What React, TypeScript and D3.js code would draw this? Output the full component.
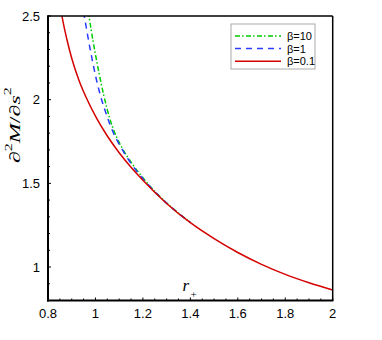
import React from "react";
import * as d3 from "d3";

// r+ sample points and values
const rRed = [0.855, 0.86, 0.88, 0.9, 0.93, 0.96, 1.0, 1.05, 1.1, 1.15, 1.2, 1.3, 1.4, 1.5, 1.6, 1.7, 1.8, 1.9, 2.0];
const redVals = [2.53, 2.49, 2.358, 2.248, 2.118, 2.016, 1.902, 1.783, 1.683, 1.596, 1.518, 1.38, 1.265, 1.17, 1.087, 1.016, 0.956, 0.906, 0.863];

const rBlue = [0.95, 0.98, 1.0, 1.02, 1.05, 1.075, 1.1, 1.15, 1.2, 1.25, 1.3, 1.35, 1.4];
const blueVals = [2.525, 2.285, 2.145, 2.03, 1.896, 1.804, 1.734, 1.619, 1.528, 1.45, 1.382, 1.321, 1.267];

const rGreen = [0.97, 0.98, 1.0, 1.02, 1.05, 1.075, 1.1, 1.15, 1.2, 1.25, 1.3, 1.35, 1.4];
const greenVals = [2.525, 2.435, 2.27, 2.125, 1.94, 1.825, 1.745, 1.627, 1.533, 1.452, 1.383, 1.322, 1.267];

const xMajor = [0.8, 1, 1.2, 1.4, 1.6, 1.8, 2];
const xMajorLabels = ["0.8", "1", "1.2", "1.4", "1.6", "1.8", "2"];
const yMajor = [1, 1.5, 2, 2.5];
const yMajorLabels = ["1", "1.5", "2", "2.5"];

const legendLabels = ["β=10", "β=1", "β=0.1"];
const legendColors = ["#00cc00", "#2a3cff", "#d40000"];
const legendDash = ["5,2,1.5,2.5", "6,5", ""];

export default function App() {
  const W = 382, H = 340;
  const left = 48, right = 332.7, top = 16, bottom = 300.5;
  const x = d3.scaleLinear().domain([0.8, 2]).range([left, right]);
  const y = d3.scaleLinear().domain([0.8, 2.5]).range([bottom, top]);

  const line = d3.line<[number, number]>().x((d) => x(d[0])).y((d) => y(d[1])).curve(d3.curveMonotoneX);
  const mk = (rs: number[], vs: number[]) => line(rs.map((r, i) => [r, vs[i]] as [number, number])) || "";

  const xMinor = d3.range(0, 25).map((i) => 0.8 + i * 0.05);
  const yMinor = d3.range(0, 18).map((i) => 0.8 + i * 0.1);

  const series = [
    { path: mk(rGreen, greenVals), color: legendColors[0], dash: legendDash[0] },
    { path: mk(rBlue, blueVals), color: legendColors[1], dash: legendDash[1] },
    { path: mk(rRed, redVals), color: legendColors[2], dash: legendDash[2] },
  ];

  return (
    <svg width={W} height={H} style={{ position: "absolute", left: 0, top: 0 }}>
      <rect width={W} height={H} fill="#fff" />
      <defs>
        <clipPath id="plot">
          <rect x={left} y={top} width={right - left} height={bottom - top} />
        </clipPath>
      </defs>
      <g clipPath="url(#plot)">
        {series.map((s, i) => (
          <path key={i} d={s.path} fill="none" stroke={s.color} strokeWidth={1.5} strokeDasharray={s.dash || undefined} />
        ))}
      </g>
      {/* minor ticks */}
      {xMinor.map((v, i) => (
        <line key={"xm" + i} x1={x(v)} x2={x(v)} y1={bottom} y2={bottom - (Math.abs(v * 5 - Math.round(v * 5)) < 1e-6 ? 3 : 2)} stroke="#000" strokeWidth={1} />
      ))}
      {yMinor.map((v, i) => (
        <line key={"ym" + i} x1={left} x2={left + (Math.abs(v * 2 - Math.round(v * 2)) < 1e-6 ? 3 : 2)} y1={y(v)} y2={y(v)} stroke="#000" strokeWidth={1} />
      ))}
      {/* frame */}
      <line x1={left} x2={right} y1={top} y2={top} stroke="#000" strokeWidth={1.5} />
      <line x1={right} x2={right} y1={top} y2={bottom} stroke="#000" strokeWidth={1.5} />
      <line x1={left} x2={left} y1={top - 0.75} y2={bottom + 1} stroke="#000" strokeWidth={2} />
      <line x1={left - 1} x2={right + 0.75} y1={bottom} y2={bottom} stroke="#000" strokeWidth={2} />
      {/* tick labels */}
      {xMajor.map((v, i) => (
        <text key={"xl" + i} x={x(v)} y={318} textAnchor="middle" fontFamily="Liberation Sans, Arial, sans-serif" fontSize={13} fill="#000">
          {xMajorLabels[i]}
        </text>
      ))}
      {yMajor.map((v, i) => (
        <text key={"yl" + i} x={40} y={y(v) + 4.5} textAnchor="end" fontFamily="Liberation Sans, Arial, sans-serif" fontSize={13} fill="#000">
          {yMajorLabels[i]}
        </text>
      ))}
      {/* axis labels */}
      <text x={182.5} y={291} fontFamily="Liberation Serif, Times New Roman, serif" fontSize={17} fontStyle="italic" fill="#000">
        r
      </text>
      <text x={190.5} y={297.5} fontFamily="Liberation Serif, Times New Roman, serif" fontSize={11} fill="#000">
        +
      </text>
      <g transform="translate(19.5,163) rotate(-90) scale(1.6,1)">
        <text x={0} y={0} textAnchor="start" fontFamily="Liberation Serif, Times New Roman, serif" fontSize={15} fill="#000">
          <tspan>∂</tspan>
          <tspan fontSize={10} dy={-8}>2</tspan>
          <tspan fontStyle="italic" dy={8}>M</tspan>
          <tspan>/∂</tspan>
          <tspan fontStyle="italic">s</tspan>
          <tspan fontSize={10} dy={-9}>2</tspan>
        </text>
      </g>
      {/* legend */}
      <rect x={231} y={24} width={84} height={45} fill="#fff" stroke="#aaa" strokeWidth={1} />
      {legendLabels.map((lab, i) => (
        <g key={"lg" + i}>
          <line x1={235} x2={281} y1={36 + i * 12.6} y2={36 + i * 12.6} stroke={legendColors[i]} strokeWidth={1.5} strokeDasharray={legendDash[i] || undefined} />
          <text x={287} y={36 + i * 12.6 + 4} fontFamily="Liberation Sans, Arial, sans-serif" fontSize={11} fill="#000">
            {lab}
          </text>
        </g>
      ))}
    </svg>
  );
}
